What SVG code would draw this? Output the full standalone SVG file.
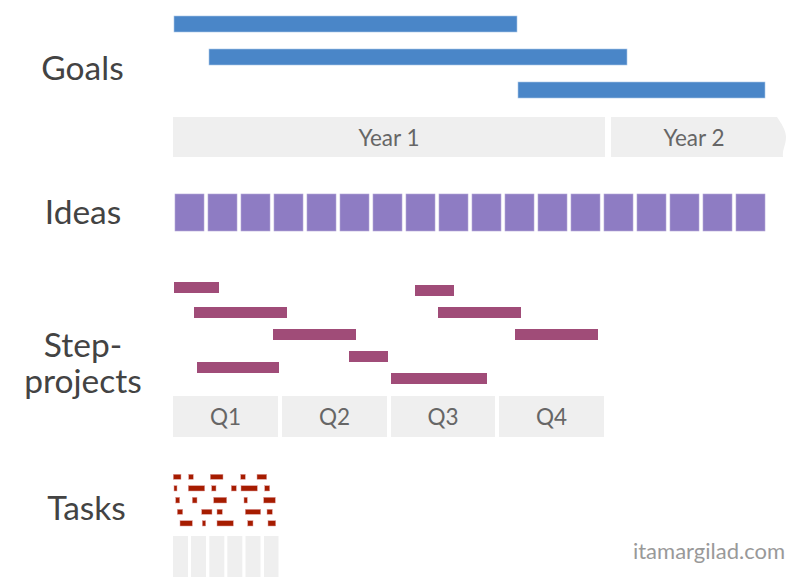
<svg xmlns="http://www.w3.org/2000/svg" width="800" height="583" viewBox="0 0 800 583">
<style>
.lbl{font-family:Lato,"Open Sans","Liberation Sans",sans-serif;font-size:33.5px;fill:#434343;text-anchor:middle}
.tl{font-family:Lato,"Open Sans","Liberation Sans",sans-serif;font-size:22.5px;fill:#666666;text-anchor:middle}
.goal{fill:#4a86c8;stroke:#a9c6e8;stroke-width:0.6}
.band{fill:#efefef}
.idea{fill:#8e7cc3;stroke:#b4a7d6;stroke-width:0.6}
.step{fill:#a04c78}
.task{fill:#a61c00;stroke:#e0a0a0;stroke-width:0.5}
.col{fill:#efefef}
</style>
<rect width="800" height="583" fill="#ffffff"/>
<g id="labels">
<text class="lbl" x="82.5" y="80">Goals</text>
<text class="lbl" x="83" y="224">Ideas</text>
<text class="lbl" x="83" y="357"><tspan x="83" y="357">Step-</tspan><tspan x="83" y="392.5">projects</tspan></text>
<text class="lbl" x="86.5" y="519.5">Tasks</text>
</g>
<g id="goals">
<rect class="goal" x="174" y="16" width="343" height="16"/>
<rect class="goal" x="209" y="49" width="418" height="16"/>
<rect class="goal" x="518" y="82" width="247" height="16"/>
</g>
<g id="years">
<rect class="band" x="173" y="117" width="432" height="40"/>
<path class="band" d="M611,117 H777 C781,123 786,130 786,137 C786,145 782,150 783,157 H611 Z"/>
<text class="tl" x="389" y="145.5">Year 1</text>
<text class="tl" x="694" y="145.5">Year 2</text>
</g>
<g id="ideas">
<rect class="idea" x="175" y="194" width="29" height="37"/>
<rect class="idea" x="208" y="194" width="29" height="37"/>
<rect class="idea" x="241" y="194" width="29" height="37"/>
<rect class="idea" x="274" y="194" width="29" height="37"/>
<rect class="idea" x="307" y="194" width="29" height="37"/>
<rect class="idea" x="340" y="194" width="29" height="37"/>
<rect class="idea" x="373" y="194" width="29" height="37"/>
<rect class="idea" x="406" y="194" width="29" height="37"/>
<rect class="idea" x="439" y="194" width="29" height="37"/>
<rect class="idea" x="472" y="194" width="29" height="37"/>
<rect class="idea" x="505" y="194" width="29" height="37"/>
<rect class="idea" x="538" y="194" width="29" height="37"/>
<rect class="idea" x="571" y="194" width="29" height="37"/>
<rect class="idea" x="604" y="194" width="29" height="37"/>
<rect class="idea" x="637" y="194" width="29" height="37"/>
<rect class="idea" x="670" y="194" width="29" height="37"/>
<rect class="idea" x="703" y="194" width="29" height="37"/>
<rect class="idea" x="736" y="194" width="29" height="37"/>
</g>
<g id="steps">
<rect class="step" x="174" y="282" width="45" height="11"/>
<rect class="step" x="194" y="307" width="93" height="11"/>
<rect class="step" x="273" y="329" width="83" height="11"/>
<rect class="step" x="349" y="351" width="39" height="11"/>
<rect class="step" x="197" y="362" width="82" height="11"/>
<rect class="step" x="391" y="373" width="96" height="11"/>
<rect class="step" x="415" y="285" width="39" height="11"/>
<rect class="step" x="438" y="307" width="83" height="11"/>
<rect class="step" x="515" y="329" width="83" height="11"/>
</g>
<g id="quarters">
<rect class="band" x="173" y="396" width="105" height="41"/>
<rect class="band" x="282" y="396" width="105" height="41"/>
<rect class="band" x="391" y="396" width="104" height="41"/>
<rect class="band" x="499" y="396" width="105" height="41"/>
<text class="tl" x="225.5" y="425">Q1</text>
<text class="tl" x="334.5" y="425">Q2</text>
<text class="tl" x="443" y="425">Q3</text>
<text class="tl" x="551.5" y="425">Q4</text>
</g>
<g id="tasks">
<rect class="task" x="173.3" y="474.3" width="7.7" height="5"/>
<rect class="task" x="188.7" y="474.3" width="4.6" height="5"/>
<rect class="task" x="210.3" y="474.3" width="12.7" height="5"/>
<rect class="task" x="240.7" y="474.3" width="4.6" height="5"/>
<rect class="task" x="257" y="474.3" width="9.7" height="5"/>
<rect class="task" x="174" y="485.7" width="3" height="5.3"/>
<rect class="task" x="188.3" y="485.7" width="16.4" height="5.3"/>
<rect class="task" x="211.7" y="485.7" width="4.3" height="5.3"/>
<rect class="task" x="231.3" y="485.7" width="5" height="5.3"/>
<rect class="task" x="241" y="485.7" width="16.3" height="5.3"/>
<rect class="task" x="264.7" y="485.7" width="5" height="5.3"/>
<rect class="task" x="175.7" y="497.3" width="4" height="5.7"/>
<rect class="task" x="192.3" y="497.3" width="4.7" height="5.7"/>
<rect class="task" x="213.7" y="497.3" width="13" height="5.7"/>
<rect class="task" x="244" y="497.3" width="3.3" height="5.7"/>
<rect class="task" x="263.7" y="497.3" width="11.6" height="5.7"/>
<rect class="task" x="177.3" y="509.3" width="5.4" height="5"/>
<rect class="task" x="201.7" y="509.3" width="10.3" height="5"/>
<rect class="task" x="217" y="509.3" width="5.3" height="5"/>
<rect class="task" x="245.3" y="509.3" width="15.4" height="5"/>
<rect class="task" x="267" y="509.3" width="5.3" height="5"/>
<rect class="task" x="180" y="520.7" width="12.3" height="5.3"/>
<rect class="task" x="202.3" y="520.7" width="3.4" height="5.3"/>
<rect class="task" x="217" y="520.7" width="16.3" height="5.3"/>
<rect class="task" x="247.7" y="520.7" width="5.3" height="5.3"/>
<rect class="task" x="268" y="520.7" width="7.7" height="5.3"/>
</g>
<g id="task-columns">
<rect class="col" x="173" y="536" width="15" height="41"/>
<rect class="col" x="191" y="536" width="15" height="41"/>
<rect class="col" x="209.3" y="536" width="15" height="41"/>
<rect class="col" x="227.3" y="536" width="15" height="41"/>
<rect class="col" x="245.5" y="536" width="15" height="41"/>
<rect class="col" x="264" y="536" width="14.5" height="41"/>
</g>
<g id="connectors"/>
<text x="709" y="558.5" style="font-family:Lato,'Open Sans','Liberation Sans',sans-serif;font-size:22px;fill:#999999;text-anchor:middle">itamargilad.com</text>
</svg>
